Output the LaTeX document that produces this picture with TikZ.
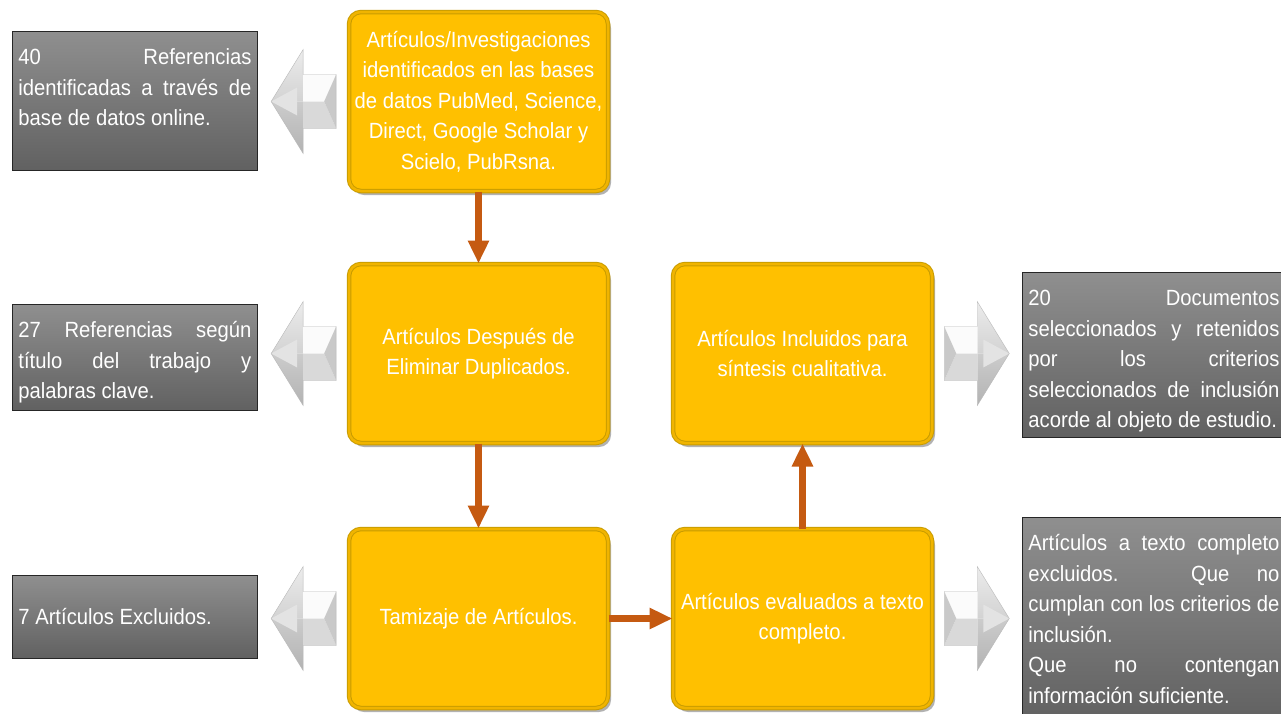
\documentclass[tikz,border=0pt]{standalone}
\usepackage{fontspec}
\setmainfont[FakeStretch=0.92]{Liberation Sans}
\usepackage{tikz}
\usetikzlibrary{arrows.meta,
calc,
shadows
}
\definecolor{boxorange}{HTML}{FFC000}
\definecolor{boxedge}{HTML}{C99C00}
\definecolor{flowred}{HTML}{C55A11}
\definecolor{graytop}{HTML}{8F8F8F}
\definecolor{graybot}{HTML}{616161}
\tikzset{>={Triangle[length=23pt,width=20pt]}}
% justified line of a gray box
\newcommand{\jl}[1]{\makebox[\linewidth][s]{\strut #1}\\}

\tikzset{
  orangebox/.style={rounded corners=12pt, fill=boxorange, draw=boxedge,
    line width=1pt, double=boxorange!94!black, double distance=2.5pt,
    minimum width=259pt, minimum height=179pt, align=center, text=white,
    font=\fontsize{22}{30.5}\selectfont,
    drop shadow={shadow xshift=3pt, shadow yshift=-4pt, opacity=.3, fill=black}},
  graybox/.style={anchor=north west, draw=black!85, line width=0.8pt,
    top color=graytop, bottom color=graybot, text=white,
    inner xsep=6pt, inner ysep=12pt,
    font=\fontsize{22}{30.5}\selectfont},
  flow/.style={draw=flowred, line width=6.5pt, ->},
  pics/silver arrow/.style={code={
    % head
    \shade[top color=gray!15, bottom color=gray!35] (-32,0) -- (0,-52) -- (0,0) -- cycle;
    \shade[top color=gray!40, bottom color=gray!60] (-32,0) -- (0,52) -- (0,0) -- cycle;
    \fill[gray!22] (-32,0) -- (-6,-14) -- (-6,14) -- cycle;
    % shaft
    \fill[gray!3] (0,-27) -- (33,-27) -- (21,0) -- (0,0) -- cycle;
    \fill[gray!30] (0,0) -- (21,0) -- (33,27) -- (0,27) -- cycle;
    \fill[gray!42] (21,0) -- (33,-27) -- (33,27) -- cycle;
    \draw[gray!55, line width=0.4pt] (-32,0) -- (0,-52) -- (0,-27) -- (33,-27) -- (33,27) -- (0,27) -- (0,52) -- cycle;
  }}
}

\begin{document}
\begin{tikzpicture}[x=1pt, y=-1pt]
  \useasboundingbox (0,0) rectangle (1281,713);
  \fill[white] (0,0) rectangle (1281,713);

  % main column
  \node[orangebox] (a) at (478.5,101.5) {Artículos/Investigaciones\\identificados en las bases\\de datos PubMed, Science,\\Direct, Google Scholar y\\Scielo, PubRsna.};
  \node[orangebox] (b) at (478.5,353.5) {Artículos Después de\\Eliminar Duplicados.};
  \node[orangebox] (c) at (478.5,618.5) {Tamizaje de Artículos.};
  \node[orangebox] (e) at (802.5,618.5) {Artículos evaluados a texto\\completo.};
  \node[orangebox] (d) at (802.5,353.5) {Artículos Incluidos para\\síntesis cualitativa.};

  % side notes
  \node[graybox] (g1) at (12,31) {\parbox[c][115pt][t]{233pt}{\jl{40 Referencias}\jl{identificadas a través de}\strut base de datos online.}};
  \node[graybox] (g2) at (12,304) {\parbox[c][82pt][t]{233pt}{\jl{27 Referencias según}\jl{título del trabajo y}\strut palabras clave.}};
  \node[graybox] (g3) at (12,575) {\parbox[c][59pt][c]{233pt}{7 Artículos Excluidos.}};
  \node[graybox] (g4) at (1022,272) {\parbox[c][141pt][t]{251pt}{\jl{20 Documentos}\jl{seleccionados y retenidos}\jl{por los criterios}\jl{seleccionados de inclusión}\strut acorde al objeto de estudio.}};
  \node[graybox] (g5) at (1022,517) {\parbox[c][180pt][t]{251pt}{\jl{Artículos a texto completo}\jl{excluidos. Que no}\jl{cumplan con los criterios de}\strut inclusión.\\\jl{Que no contengan}\strut información suficiente.}};

  % flow
  \draw[flow] (a) -- (b);
  \draw[flow] (b) -- (c);
  \draw[flow] (c) -- (e);
  \draw[flow] (e) -- (d);

  % 3d arrows
  \pic at ($(a.west)!.5!(g1.east |- a.west)$) {silver arrow};
  \pic at ($(b.west)!.5!(g2.east |- b.west)$) {silver arrow};
  \pic at ($(c.west)!.5!(g3.east |- c.west)$) {silver arrow};
  \pic[xscale=-1] at ($(d.east)!.5!(g4.west |- d.east)$) {silver arrow};
  \pic[xscale=-1] at ($(e.east)!.5!(g5.west |- e.east)$) {silver arrow};
\end{tikzpicture}
\end{document}
